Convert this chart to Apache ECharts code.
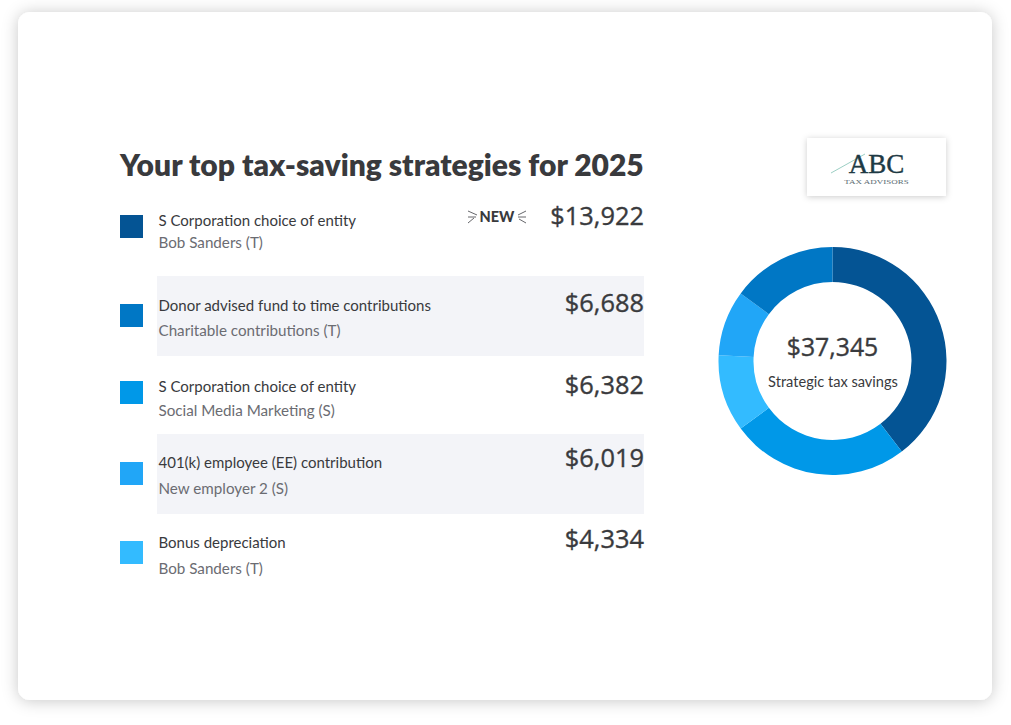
<!DOCTYPE html>
<html><head><meta charset="utf-8">
<style>html,body{margin:0;padding:0;background:#fff}#c{width:1011px;height:725px}</style>
<script src="https://cdn.jsdelivr.net/npm/echarts@6/dist/echarts.min.js"></script>
</head><body><div id="c"></div>
<script>
// ---- data ----
const titleText = 'Your top tax-saving strategies for 2025';
const strategies = ['S Corporation choice of entity','Donor advised fund to time contributions','S Corporation choice of entity','401(k) employee (EE) contribution','Bonus depreciation'];
const sources = ['Bob Sanders (T)','Charitable contributions (T)','Social Media Marketing (S)','New employer 2 (S)','Bob Sanders (T)'];
const savingsLabels = ['$13,922','$6,688','$6,382','$6,019','$4,334'];
const totalLabel = '$37,345';
const totalCaption = 'Strategic tax savings';
// donut slices clockwise from 12 o'clock, shares (%) as drawn in the picture
const sliceNames = ['S Corporation choice of entity','S Corporation choice of entity (Social Media Marketing)','Bonus depreciation','401(k) employee (EE) contribution','Donor advised fund to time contributions'];
const sliceShares = [39.6,25.3,10.9,9.3,14.9];
const sliceColors = ['#045494','#0098E8','#33BBFF','#21A6F7','#0077C5'];
const keyColors = ['#045494','#0077C5','#0098E8','#21A6F7','#33BBFF'];

// ---- layout ----
const FONT = 'Lato, "Noto Sans", sans-serif';
const NUM = '"Open Sans", Lato, sans-serif';
const INK = '#393A3D', SUB = '#6B6C72';
const keyTops = [215,304,381,462,541];
const nameY = [220,305,386,462,542];
const subY = [242,330,410,488,568];
const valueY = [214.5,301.5,383.5,456.5,537.5];
const bands = [[276,80],[434,80]];

const txt = (x,y,text,size,weight,fill,align,family) => ({type:'text',silent:true,x,y,style:{text,fontSize:size,fontWeight:weight,fill,align:align||'left',verticalAlign:'middle',fontFamily:family||FONT}});
const num = (x,y,text,size,align) => { const t = txt(x,y,text,size,500,INK,align,NUM); t.style.stroke = INK; t.style.lineWidth = 0.35; return t; };
const els = [];
els.push({type:'rect',silent:true,shape:{x:18,y:12,width:974,height:688,r:12},style:{fill:'#fff',shadowBlur:16,shadowColor:'rgba(0,0,0,0.22)',shadowOffsetY:1}});
bands.forEach(b=>els.push({type:'rect',silent:true,shape:{x:157,y:b[0],width:487,height:b[1]},style:{fill:'#F3F4F8'}}));
els.push(txt(120,164,titleText,30,800,INK));
strategies.forEach((s,i)=>{
  els.push({type:'rect',silent:true,shape:{x:120,y:keyTops[i],width:23,height:23},style:{fill:keyColors[i]}});
  els.push(txt(158.5,nameY[i],s,15,400,INK));
  els.push(txt(158.5,subY[i],sources[i],15.2,400,SUB));
  els.push(num(644,valueY[i],savingsLabels[i],25.4,'right'));
});
// NEW badge
els.push(txt(497,216.5,'NEW',14.5,900,INK,'center'));
[[468,211,477,215],[468,217,476,217],[468,223,474,218],[526,211,518,215],[526,217,518,217],[526,223,519,219]].forEach(l=>
  els.push({type:'line',silent:true,shape:{x1:l[0],y1:l[1],x2:l[2],y2:l[3]},style:{stroke:'#55565A',lineWidth:0.9}}));
// logo
els.push({type:'rect',silent:true,shape:{x:807,y:138,width:139,height:58},style:{fill:'#fff',shadowBlur:6,shadowColor:'rgba(0,0,0,0.2)',shadowOffsetY:1}});
els.push({type:'line',silent:true,shape:{x1:831,y1:173,x2:865,y2:154},style:{stroke:'#9CCFC4',lineWidth:1}});
const abc = txt(876.5,164,'ABC',27,400,'#1E3A44','center','"Liberation Serif", serif');
abc.style.stroke = '#1E3A44'; abc.style.lineWidth = 0.4;
els.push(abc);
const tag = txt(876.5,182,'TAX ADVISORS',6.5,400,'#5A6B72','center','"Liberation Serif", serif');
tag.scaleX = 1.38;
els.push(tag);
// donut centre
els.push(num(832.5,345.5,totalLabel,24.8,'center'));
els.push(txt(833,381.5,totalCaption,14.6,400,INK,'center'));

const chart = echarts.init(document.getElementById('c'),null,{renderer:'svg'});
chart.setOption({
  animation:false,
  backgroundColor:'#fff',
  graphic:{elements:els},
  series:[{
    type:'pie',silent:true,center:[832.5,361],radius:[79,114],startAngle:90,clockwise:true,z:5,
    label:{show:false},labelLine:{show:false},
    data:sliceNames.map((n,i)=>({name:n,value:sliceShares[i],itemStyle:{color:sliceColors[i]}}))
  }]
});
</script></body></html>
